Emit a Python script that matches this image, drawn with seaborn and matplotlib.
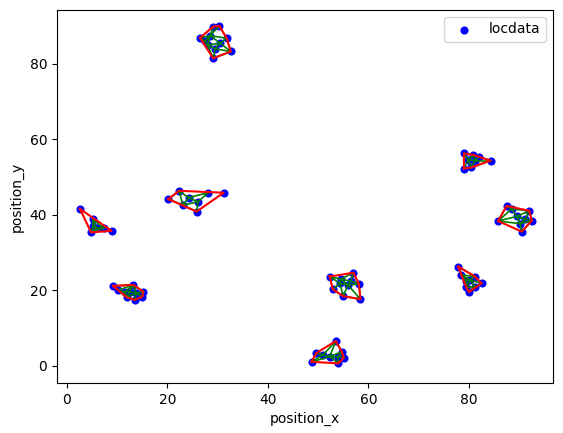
import numpy as np
import pandas as pd
import seaborn as sns
import matplotlib
matplotlib.use('Agg')
import matplotlib.pyplot as plt
import matplotlib.tri as mtri

# localizaciones, agrupadas por cluster
pos_x = [2.6, 5.2, 4.8, 8.9, 5.9, 7.3, 5.2,
         9.2, 13.2, 15.2, 15.0, 13.5, 11.9, 10.2, 12.5, 13.8, 11.5,
         20.2, 22.3, 28.1, 31.2, 25.8, 23.1, 26.1, 24.2,
         26.5, 29.1, 30.3, 31.8, 32.6, 29.1, 28.0, 29.5, 28.5, 30.5, 27.5,
         53.5, 54.7, 55.1, 54.0, 48.7, 49.6, 52.3, 54.0, 51.0,
         52.3, 57.0, 58.1, 58.4, 55.0, 52.9, 54.3, 55.9, 54.5, 56.5,
         77.9, 81.2, 82.5, 81.2, 80.0, 78.5, 80.2, 79.4, 79.5,
         79.0, 80.9, 82.0, 84.3, 80.5, 79.0, 79.9, 81.2,
         87.5, 92.0, 92.5, 90.5, 85.8, 88.5, 89.5, 91.2, 90.2]
pos_y = [41.6, 38.9, 35.4, 35.8, 36.5, 36.5, 37.0,
         21.2, 21.5, 19.7, 18.4, 17.5, 18.2, 20.1, 19.7, 19.3, 19.6,
         44.2, 46.4, 45.9, 45.9, 40.9, 42.6, 43.5, 44.6,
         86.9, 89.9, 90.1, 86.8, 83.3, 81.5, 85.0, 84.0, 87.5, 85.5, 86.0,
         6.6, 3.8, 2.2, 0.7, 1.1, 3.4, 2.5, 2.5, 3.0,
         23.7, 24.7, 21.7, 17.7, 18.5, 20.3, 21.9, 21.5, 23.0, 22.5,
         26.3, 23.7, 21.9, 21.0, 19.6, 24.1, 22.8, 22.6, 20.8,
         56.3, 55.9, 55.4, 54.4, 52.6, 52.3, 54.6, 54.4,
         42.4, 41.1, 38.5, 35.6, 38.4, 41.6, 39.6, 38.9, 37.7]
cluster = [0] * 7 + [1] * 10 + [2] * 8 + [3] * 11 + [4] * 9 + \
          [5] * 10 + [6] * 9 + [7] * 8 + [8] * 9

df = pd.DataFrame({'position_x': pos_x, 'position_y': pos_y, 'cluster': cluster})


def convex_hull(pts):
    # monotone chain
    pts = sorted(map(tuple, pts))

    def cross(o, a, b):
        return (a[0] - o[0]) * (b[1] - o[1]) - (a[1] - o[1]) * (b[0] - o[0])
    lower, upper = [], []
    for p in pts:
        while len(lower) >= 2 and cross(lower[-2], lower[-1], p) <= 0:
            lower.pop()
        lower.append(p)
    for p in reversed(pts):
        while len(upper) >= 2 and cross(upper[-2], upper[-1], p) <= 0:
            upper.pop()
        upper.append(p)
    hull = lower[:-1] + upper[:-1]
    return np.array(hull + [hull[0]])


def alpha_edges(xs, ys, alpha):
    # aristas de triangulos con radio pequeño
    tri = mtri.Triangulation(xs, ys)
    edges = set()
    for t in tri.triangles:
        a, b, c = [np.array([xs[i], ys[i]]) for i in t]
        la, lb, lc = np.linalg.norm(b - c), np.linalg.norm(a - c), np.linalg.norm(a - b)
        area = abs((b - a)[0] * (c - a)[1] - (b - a)[1] * (c - a)[0]) / 2
        if area == 0:
            continue
        r = la * lb * lc / (4 * area)
        if r < alpha:
            for i, j in ((t[0], t[1]), (t[1], t[2]), (t[0], t[2])):
                edges.add((min(i, j), max(i, j)))
    return edges


fig = plt.figure(figsize=(5.63, 4.33), dpi=100)
ax = fig.add_axes([0.101, 0.1155, 0.881, 0.8615])
sns.scatterplot(data=df, x='position_x', y='position_y', color='blue',
                s=34, linewidth=0, label='locdata', ax=ax, zorder=2)

for c, g in df.groupby('cluster'):
    xs = g['position_x'].values
    ys = g['position_y'].values
    for i, j in alpha_edges(xs, ys, 2.6):
        ax.plot([xs[i], xs[j]], [ys[i], ys[j]], color='green', lw=1.2, zorder=3)
    hull = convex_hull(np.column_stack([xs, ys]))
    ax.plot(hull[:, 0], hull[:, 1], color='red', lw=1.5, zorder=4)

ax.set_xlim(-2.0, 96.7)
ax.set_ylim(-4.5, 94.3)
ax.legend(loc='upper right')
plt.savefig('out.png', dpi=100)
